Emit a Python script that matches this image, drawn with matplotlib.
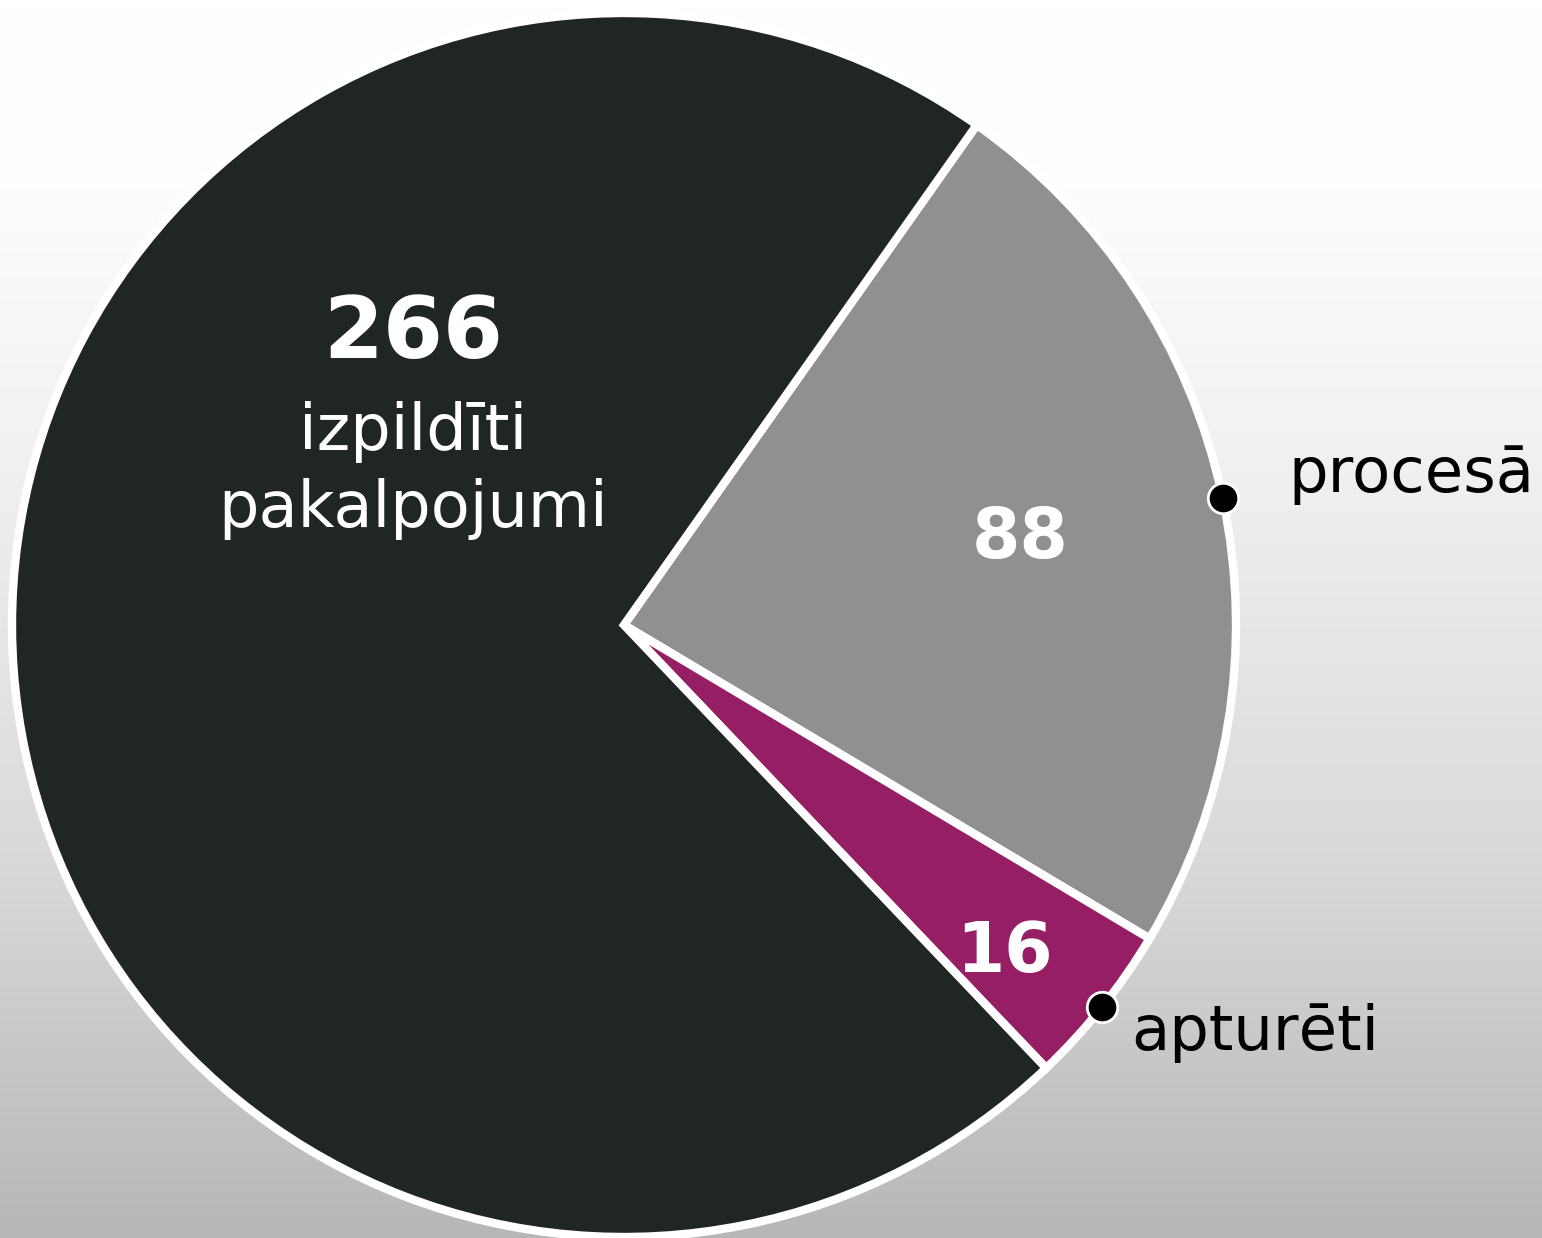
import numpy as np
import matplotlib.pyplot as plt
from matplotlib.colors import LinearSegmentedColormap

# slices, drawn clockwise from the upper right
labels = ["procesā", "apturēti", "izpildīti\npakalpojumi"]
values = [88, 16, 266]
colors = ["#8e918f", "#961e64", "#1f2623"]

W, H = 1542, 1238
fig = plt.figure(figsize=(W / 100, H / 100), dpi=100)
ax = fig.add_axes([0, 0, 1, 1])
ax.set_xlim(0, W)
ax.set_ylim(0, H)
ax.axis("off")

# background gradient, white at top to grey at bottom
bg = LinearSegmentedColormap.from_list(
    "bg", [(0.0, "#b6b7b6"), (0.3, "#d8d9d8"), (0.6, "#efefef"),
           (0.85, "#fdfdfd"), (1.0, "#ffffff")])
grad = np.linspace(0, 1, 256).reshape(-1, 1)
ax.imshow(grad, cmap=bg, aspect="auto", extent=[0, W, 0, H],
          origin="lower", zorder=0)

cx, cy, r = 624, H - 625, 612
wedges, _ = ax.pie(values, colors=colors, startangle=54.8,
                   counterclock=False, center=(cx, cy), radius=r,
                   wedgeprops=dict(edgecolor="white", linewidth=6,
                                   joinstyle="miter"),
                   frame=True)
for w in wedges:
    w.set_zorder(2)
ax.set_xlim(0, W)
ax.set_ylim(0, H)
ax.set_aspect("equal")
ax.axis("off")

# dots on the rim for the two small slices
for w in wedges[:2]:
    mid = np.deg2rad((w.theta1 + w.theta2) / 2)
    ax.scatter(cx + r * np.cos(mid), cy + r * np.sin(mid), s=480,
               color="black", edgecolor="white", linewidth=2, zorder=5)

# numbers and text inside slices
ax.text(413, H - 358, str(values[2]), color="white", fontsize=62,
        fontweight="bold", ha="center", va="baseline", zorder=6)
ax.text(413, H - 450, "izpildīti", color="white", fontsize=46,
        ha="center", va="baseline", zorder=6)
ax.text(413, H - 527, "pakalpojumi", color="white", fontsize=46,
        ha="center", va="baseline", zorder=6)
ax.text(1020, H - 558, str(values[0]), color="white", fontsize=50,
        fontweight="bold", ha="center", va="baseline", zorder=6)
ax.text(1004, H - 972, str(values[1]), color="white", fontsize=50,
        fontweight="bold", ha="center", va="baseline", zorder=6)

# outside labels
ax.text(1288, H - 492, labels[0], color="black", fontsize=45,
        ha="left", va="baseline", zorder=6)
ax.text(1131, H - 1050, labels[1], color="black", fontsize=45,
        ha="left", va="baseline", zorder=6)

fig.savefig("out.png", dpi=100)
